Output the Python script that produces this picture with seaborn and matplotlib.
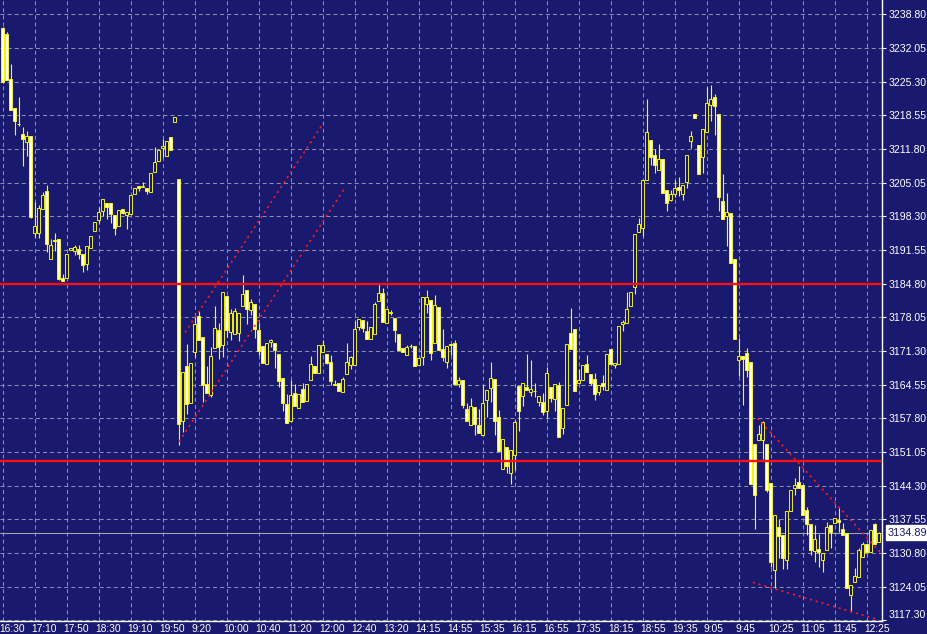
import matplotlib
matplotlib.use("Agg")
import matplotlib.pyplot as plt
import matplotlib.transforms as mtransforms
import numpy as np
import pandas as pd
import seaborn as sns

# 5-minute bars
opens = [
    3236.0, 3234.9, 3225.8, 3220.0, 3216.8, 3214.8, 3213.2, 3214.4, 3195.0, 3195.0,
    3199.7, 3203.3, 3189.8, 3193.6, 3193.7, 3185.9, 3186.0, 3191.6, 3191.4, 3191.7,
    3190.8, 3188.7, 3192.0, 3195.4, 3197.5, 3199.3, 3201.0, 3200.9, 3198.5, 3196.4,
    3199.8, 3198.6, 3198.7, 3202.8, 3204.3, 3204.2, 3204.0, 3203.2, 3207.2, 3209.4,
    3212.0, 3210.4, 3214.2, 3217.2, 3205.7, 3157.2, 3168.2, 3160.8, 3171.0, 3178.3,
    3174.0, 3164.7, 3162.4, 3171.8, 3175.6, 3172.4, 3182.4, 3175.0, 3174.6, 3174.8,
    3180.4, 3183.6, 3179.5, 3180.8, 3175.4, 3172.2, 3168.6, 3173.1, 3172.8, 3170.7,
    3165.8, 3160.6, 3157.2, 3162.8, 3159.8, 3163.6, 3161.2, 3165.4, 3168.2, 3166.9,
    3171.0, 3170.6, 3169.0, 3164.7, 3164.8, 3163.0, 3166.6, 3168.4, 3168.5, 3176.2,
    3177.6, 3175.2, 3173.6, 3174.6, 3181.4, 3183.0, 3177.0, 3179.0, 3178.0, 3174.6,
    3171.9, 3170.5, 3172.3, 3172.2, 3168.4, 3170.0, 3180.7, 3181.6, 3172.9, 3180.2,
    3171.7, 3169.0, 3172.6, 3172.9, 3164.6, 3165.4, 3159.7, 3156.4, 3160.0, 3156.4,
    3154.4, 3161.5, 3163.8, 3165.7, 3158.0, 3147.6, 3152.0, 3146.8, 3150.5, 3164.2,
    3162.2, 3164.0, 3163.0, 3163.2, 3161.0, 3161.0, 3159.2, 3164.0, 3161.6, 3164.5,
    3155.8, 3160.4, 3174.8, 3175.8, 3164.8, 3165.4, 3168.6, 3166.7, 3165.7, 3163.0,
    3164.9, 3163.4, 3171.6, 3168.4, 3168.6, 3176.8, 3177.0, 3180.4, 3184.2, 3195.2,
    3196.0, 3205.6, 3213.6, 3210.6, 3207.6, 3209.8, 3203.5, 3201.6, 3202.8, 3204.2,
    3202.8, 3205.2, 3213.4, 3218.8, 3212.5, 3210.2, 3215.2, 3220.6, 3222.2, 3218.8,
    3201.4, 3198.4, 3199.0, 3189.8, 3169.4, 3170.2, 3170.9, 3169.0, 3152.6, 3153.4,
    3153.5, 3152.7, 3144.8, 3127.4, 3136.0, 3134.4, 3129.4, 3139.2, 3143.8, 3145.0,
    3144.5, 3139.5, 3136.7, 3131.2, 3131.6, 3129.4, 3131.4, 3136.4, 3136.9, 3137.5,
    3135.6, 3134.7, 3122.4, 3125.0, 3126.0, 3130.0, 3132.6, 3130.9, 3136.5, 3132.9,
]
highs = [
    3236.3, 3235.2, 3228.9, 3220.0, 3222.2, 3216.2, 3215.4, 3214.4, 3201.2, 3200.5,
    3203.2, 3204.5, 3193.7, 3194.9, 3193.7, 3186.8, 3190.8, 3192.0, 3192.6, 3192.6,
    3190.8, 3192.4, 3194.4, 3197.2, 3200.2, 3201.8, 3201.0, 3200.9, 3198.5, 3199.5,
    3199.8, 3199.2, 3202.6, 3204.0, 3204.3, 3205.2, 3204.0, 3207.0, 3212.2, 3211.6,
    3213.7, 3213.4, 3214.2, 3218.2, 3205.7, 3167.1, 3172.7, 3168.8, 3178.4, 3179.4,
    3174.0, 3168.2, 3172.0, 3180.4, 3177.0, 3183.2, 3182.4, 3179.7, 3180.0, 3179.0,
    3186.6, 3183.6, 3181.7, 3180.8, 3177.0, 3172.2, 3172.9, 3173.7, 3172.8, 3170.7,
    3165.8, 3162.7, 3165.5, 3164.7, 3162.6, 3164.8, 3164.6, 3170.2, 3168.2, 3172.5,
    3173.4, 3170.6, 3170.5, 3165.5, 3164.8, 3166.0, 3172.9, 3170.3, 3177.4, 3177.7,
    3177.6, 3177.4, 3176.2, 3181.2, 3184.9, 3184.0, 3179.7, 3179.6, 3178.0, 3174.6,
    3171.9, 3172.5, 3172.7, 3172.2, 3169.8, 3182.2, 3183.5, 3181.6, 3182.5, 3180.2,
    3175.8, 3172.2, 3172.6, 3173.5, 3166.0, 3165.4, 3160.9, 3161.8, 3160.0, 3159.7,
    3164.5, 3163.5, 3169.0, 3165.7, 3159.5, 3153.7, 3152.0, 3151.4, 3157.4, 3164.2,
    3164.9, 3170.7, 3169.5, 3164.9, 3162.2, 3162.9, 3168.0, 3164.0, 3164.7, 3165.0,
    3159.8, 3172.6, 3179.9, 3175.8, 3167.7, 3168.5, 3170.5, 3166.7, 3166.9, 3164.5,
    3166.5, 3170.6, 3171.6, 3168.9, 3176.4, 3177.6, 3183.2, 3183.2, 3194.8, 3198.0,
    3205.6, 3221.8, 3213.6, 3211.8, 3212.7, 3209.8, 3203.5, 3203.6, 3205.5, 3206.2,
    3204.6, 3210.6, 3215.5, 3218.8, 3212.5, 3215.8, 3224.2, 3224.7, 3222.9, 3218.8,
    3206.7, 3202.9, 3199.0, 3189.8, 3173.8, 3170.2, 3171.8, 3169.0, 3152.6, 3156.4,
    3157.3, 3152.7, 3144.8, 3138.5, 3137.7, 3134.4, 3139.2, 3143.5, 3145.8, 3148.2,
    3144.5, 3140.0, 3136.7, 3136.4, 3134.5, 3130.7, 3137.0, 3136.4, 3137.8, 3139.8,
    3136.8, 3134.7, 3124.4, 3127.7, 3131.7, 3133.0, 3132.6, 3135.4, 3136.9, 3135.0,
]
lows = [
    3225.0, 3225.6, 3219.6, 3214.6, 3216.4, 3208.4, 3210.4, 3198.0, 3194.2, 3194.0,
    3199.7, 3191.2, 3189.8, 3191.4, 3185.5, 3185.3, 3186.0, 3191.5, 3190.5, 3189.8,
    3187.2, 3187.6, 3192.0, 3195.4, 3197.0, 3198.4, 3197.8, 3197.0, 3194.6, 3196.4,
    3198.7, 3195.8, 3198.7, 3202.8, 3203.4, 3204.2, 3202.8, 3203.2, 3207.2, 3209.4,
    3210.2, 3210.4, 3211.6, 3217.2, 3152.5, 3155.0, 3158.6, 3160.8, 3170.0, 3173.4,
    3161.0, 3162.8, 3162.0, 3171.8, 3169.7, 3170.0, 3174.0, 3173.4, 3174.6, 3173.2,
    3180.4, 3176.7, 3178.5, 3173.9, 3170.5, 3168.8, 3168.6, 3172.0, 3167.8, 3164.0,
    3159.2, 3156.8, 3157.2, 3160.2, 3159.8, 3161.0, 3161.2, 3165.4, 3166.8, 3166.9,
    3171.0, 3168.6, 3164.4, 3164.4, 3163.2, 3163.0, 3166.6, 3167.7, 3168.5, 3175.6,
    3175.0, 3173.7, 3173.6, 3174.6, 3181.4, 3177.2, 3177.0, 3178.5, 3173.0, 3171.4,
    3171.0, 3170.5, 3171.9, 3168.2, 3168.4, 3168.4, 3179.0, 3169.4, 3172.9, 3171.4,
    3169.2, 3167.9, 3170.5, 3164.6, 3164.0, 3159.8, 3157.2, 3156.4, 3154.4, 3154.8,
    3154.4, 3158.0, 3161.0, 3154.4, 3151.2, 3147.6, 3146.9, 3144.7, 3147.4, 3155.2,
    3160.2, 3163.4, 3162.2, 3162.0, 3160.2, 3158.4, 3157.8, 3161.0, 3159.2, 3154.0,
    3154.7, 3160.4, 3171.6, 3163.2, 3164.8, 3165.4, 3167.0, 3164.4, 3161.4, 3162.4,
    3163.4, 3163.4, 3168.7, 3167.8, 3168.6, 3175.2, 3177.0, 3180.4, 3182.7, 3195.2,
    3194.4, 3205.6, 3208.6, 3207.0, 3207.6, 3203.0, 3199.4, 3201.4, 3202.2, 3202.4,
    3201.6, 3204.0, 3211.9, 3218.0, 3206.8, 3207.0, 3215.2, 3217.4, 3214.6, 3199.4,
    3197.8, 3192.4, 3189.0, 3173.6, 3166.2, 3160.5, 3166.0, 3144.7, 3135.6, 3153.4,
    3149.7, 3143.0, 3128.0, 3123.8, 3129.7, 3127.6, 3127.6, 3139.2, 3142.5, 3143.8,
    3138.4, 3134.4, 3130.4, 3129.0, 3128.0, 3127.0, 3131.4, 3131.8, 3136.9, 3135.0,
    3134.4, 3123.7, 3119.0, 3125.0, 3126.0, 3130.0, 3131.0, 3130.9, 3132.6, 3132.9,
]
closes = [
    3225.2, 3225.6, 3219.6, 3217.4, 3216.8, 3213.8, 3214.4, 3198.2, 3196.4, 3199.9,
    3202.5, 3192.8, 3192.6, 3193.4, 3185.7, 3185.4, 3190.8, 3192.0, 3192.1, 3190.8,
    3188.6, 3192.4, 3194.4, 3197.2, 3199.2, 3201.8, 3200.2, 3198.7, 3196.0, 3199.5,
    3199.0, 3199.2, 3202.6, 3204.0, 3203.9, 3204.4, 3203.4, 3207.0, 3209.2, 3211.6,
    3212.3, 3213.4, 3211.6, 3218.2, 3156.7, 3167.1, 3160.6, 3168.8, 3176.8, 3173.4,
    3164.4, 3162.8, 3170.2, 3176.0, 3172.0, 3183.2, 3175.4, 3178.9, 3179.4, 3179.0,
    3182.8, 3179.7, 3181.2, 3175.7, 3171.2, 3168.8, 3172.9, 3173.4, 3171.4, 3165.2,
    3160.8, 3156.8, 3162.4, 3160.2, 3162.6, 3161.0, 3164.6, 3168.6, 3166.8, 3172.5,
    3172.5, 3168.9, 3165.2, 3164.4, 3163.2, 3165.6, 3169.0, 3170.0, 3175.8, 3177.7,
    3176.0, 3173.7, 3176.2, 3180.7, 3183.0, 3177.2, 3179.7, 3179.0, 3175.4, 3171.4,
    3171.0, 3172.0, 3172.3, 3168.2, 3169.8, 3182.2, 3182.2, 3170.8, 3180.5, 3171.4,
    3170.0, 3172.2, 3172.4, 3164.6, 3165.5, 3160.4, 3157.2, 3160.2, 3156.7, 3154.8,
    3160.8, 3163.5, 3165.8, 3157.2, 3151.2, 3153.7, 3148.2, 3151.4, 3157.0, 3159.2,
    3164.9, 3163.4, 3163.7, 3163.2, 3162.2, 3159.0, 3166.9, 3161.8, 3164.7, 3154.0,
    3159.8, 3172.6, 3171.6, 3163.2, 3165.4, 3168.5, 3167.0, 3164.9, 3162.7, 3164.5,
    3164.2, 3170.6, 3168.7, 3168.9, 3176.4, 3177.2, 3179.8, 3183.2, 3194.8, 3196.8,
    3205.6, 3215.2, 3210.2, 3208.6, 3209.7, 3203.0, 3201.0, 3202.7, 3204.0, 3203.6,
    3204.6, 3210.6, 3214.4, 3218.0, 3206.8, 3215.8, 3221.0, 3221.8, 3220.4, 3202.2,
    3197.8, 3199.2, 3189.0, 3173.6, 3170.2, 3169.6, 3167.4, 3144.7, 3142.4, 3154.7,
    3157.0, 3143.4, 3129.0, 3138.5, 3134.2, 3129.7, 3139.2, 3143.5, 3144.5, 3143.8,
    3138.4, 3136.6, 3131.4, 3133.5, 3130.9, 3130.7, 3136.0, 3134.9, 3137.8, 3137.0,
    3134.4, 3123.7, 3124.4, 3126.2, 3131.4, 3132.6, 3131.0, 3135.4, 3132.6, 3134.89,
]

time_labels = ['16:30', '17:10', '17:50', '18:30', '19:10', '19:50', '9:20',
               '10:00', '10:40', '11:20', '12:00', '12:40', '13:20', '14:15',
               '14:55', '15:35', '16:15', '16:55', '17:35', '18:15', '18:55',
               '19:35', '9:05', '9:45', '10:25', '11:05', '11:45', '12:25']
price_ticks = [3117.30, 3124.05, 3130.80, 3137.55, 3144.30, 3151.05, 3157.80,
               3164.55, 3171.30, 3178.05, 3184.80, 3191.55, 3198.30, 3205.05,
               3211.80, 3218.55, 3225.30, 3232.05, 3238.80]

# horizontal levels and hand-drawn trend channels
levels = [3184.80, 3149.25]
last_price = 3134.89
trend_lines = {
    'up_upper': ([45.6, 80.1], [3175.0, 3216.9]),
    'up_lower': ([44.1, 85.3], [3153.1, 3203.7]),
    'down_upper': ([188.7, 219.3], [3157.8, 3131.0]),
    'down_lower': ([187.5, 218.1], [3124.9, 3117.6]),
}

NAVY = '#191970'
YELLOW = '#ffff00'

df = pd.DataFrame({'open': opens, 'high': highs, 'low': lows, 'close': closes})
df['bar'] = np.arange(len(df))
df['up'] = df['close'] >= df['open']

sns.set_theme(style='dark', rc={
    'axes.facecolor': NAVY,
    'figure.facecolor': NAVY,
    'lines.scale_dashes': False,
})
plt.rcParams['font.family'] = ['Liberation Sans', 'DejaVu Sans']

fig = plt.figure(figsize=(9.27, 6.34), dpi=100)
ax = fig.add_axes([0, 13 / 634, 882 / 927, 621 / 634])

# wicks
ax.vlines(df['bar'], df['low'], df['high'], color=YELLOW, lw=0.8, zorder=3)

# bodies: hollow for rising bars, white for falling
body_lo = df[['open', 'close']].min(axis=1)
body_h = (df['close'] - df['open']).abs().clip(lower=0.08)
fills = np.where(df['up'], NAVY, '#fffff0')
ax.bar(df['bar'], body_h, bottom=body_lo, width=0.68, color=fills,
       edgecolor=YELLOW, linewidth=0.65, zorder=4)

for lv in levels:
    ax.axhline(lv, color='#ff1010', lw=1.7, zorder=5)
ax.axhline(last_price, color='#a8a8a8', lw=0.75, zorder=2)

for name, (xs, ys) in trend_lines.items():
    sns.lineplot(x=xs, y=ys, ax=ax, color='#ff1a1a', lw=1.2,
                 linestyle=(0, (1.5, 2.8)), zorder=6)

ax.set_xlim(-0.675, 219.8)
ax.set_ylim(3117.15, 3241.67)

ax.set_xticks(np.arange(0, 8 * len(time_labels), 8))
ax.set_xticklabels(time_labels)
ax.yaxis.tick_right()
ax.set_yticks(price_ticks)
ax.set_yticklabels([f'{p:.2f}' for p in price_ticks])

ax.grid(True, color='#8890a8', lw=0.75, linestyle=(0, (2.9, 2.2)))
ax.set_axisbelow(True)

ax.tick_params(axis='y', colors='white', labelsize=7.6, length=3, width=0.8,
               direction='out', pad=2, labelcolor='white')
ax.tick_params(axis='x', colors='white', labelsize=7.4, length=1.5, width=0.8,
               direction='out', pad=0.3, labelcolor='white')

for lbl in ax.get_xticklabels():
    lbl.set_ha('left')
    lbl.set_transform(lbl.get_transform() +
                      mtransforms.ScaledTranslation(-3 / 100, 0, fig.dpi_scale_trans))
bottom_lbl = ax.get_yticklabels()[0]
bottom_lbl.set_transform(bottom_lbl.get_transform() +
                         mtransforms.ScaledTranslation(0, 6 / 100, fig.dpi_scale_trans))

for side in ['left', 'top']:
    ax.spines[side].set_visible(False)
for side in ['right', 'bottom']:
    ax.spines[side].set_visible(True)
    ax.spines[side].set_color('white')
    ax.spines[side].set_linewidth(1.0)

ax.set_xlabel('')
ax.set_ylabel('')
if ax.get_legend() is not None:
    ax.get_legend().remove()

# last price tag on the price scale
trans = mtransforms.blended_transform_factory(ax.transAxes, ax.transData)
ax.text(1 + 6 / 882, last_price, f'{last_price:.2f}', transform=trans,
        ha='left', va='center', fontsize=7.8, color=NAVY, clip_on=False,
        bbox=dict(facecolor='white', edgecolor='white', pad=1.6), zorder=10)

fig.savefig('out.png', dpi=100, facecolor=NAVY)
